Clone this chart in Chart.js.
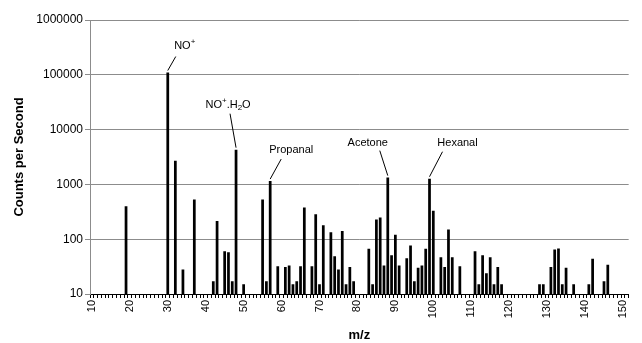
<!DOCTYPE html>
<html>
<head>
<meta charset="utf-8">
<script src="https://cdn.jsdelivr.net/npm/chart.js@4"></script>
<style>
  body { margin: 0; background: #fff; }
  #wrap { width: 642px; height: 343px; position: relative; }
</style>
</head>
<body>
<div id="wrap"><canvas id="canvasMS"></canvas></div>
<script>
// m/z range shown on the axis
var mzFirst = 10, mzLast = 151;
var categories = [];
for (var m = mzFirst; m <= mzLast; m++) categories.push(m);

// peaks
var peakMz = [19, 30, 32, 34, 37, 42, 43, 45, 46, 47, 48, 50, 55, 56, 57, 59, 61, 62, 63, 64,
  65, 66, 68, 69, 70, 71, 73, 74, 75, 76, 77, 78, 79, 83, 84, 85, 86, 87, 88, 89,
  90, 91, 93, 94, 95, 96, 97, 98, 99, 100, 102, 103, 104, 105, 107, 111, 112, 113, 114, 115,
  116, 117, 118, 128, 129, 131, 132, 133, 134, 135, 137, 141, 142, 145, 146];
var peakCounts = [400, 110000, 2700, 28, 530, 17, 215, 60, 58, 17, 4300, 15, 530, 17, 1150, 32, 31, 33, 15, 17,
  32, 380, 32, 285, 15, 180, 134, 49, 28, 141, 15, 31, 17, 67, 15, 230, 250, 33, 1330, 51,
  121, 33, 45, 77, 17, 30, 33, 67, 1270, 330, 47, 31, 150, 47, 32, 60, 15, 51, 24, 47,
  15, 31, 15, 15, 15, 31, 65, 68, 15, 30, 15, 15, 44, 17, 34];

var yTicks = [10, 100, 1000, 10000, 100000, 1000000];
var xTickLabels = [10, 20, 30, 40, 50, 60, 70, 80, 90, 100, 110, 120, 130, 140, 150];

// labelled peaks: m/z, text pieces, leader end and text centre offsets (px from bar top)
var notes = [
  { mz: 30, parts: [['NO'], ['+', 'sup']], line: [8, -16], text: [17, -27] },
  { mz: 48, parts: [['NO'], ['+', 'sup'], ['.H'], ['2', 'sub'], ['O']], line: [-6, -36], text: [-8, -45] },
  { mz: 57, parts: [['Propanal']], line: [11, -22], text: [21, -31] },
  { mz: 88, parts: [['Acetone']], line: [-8, -27], text: [-20, -35] },
  { mz: 99, parts: [['Hexanal']], line: [13, -27], text: [28, -36] }
];

var counts = categories.map(function (c) {
  var k = peakMz.indexOf(c);
  return k < 0 ? null : peakCounts[k];
});

var noteFont = '11px "Liberation Sans", Arial, sans-serif';
var smallFont = '8px "Liberation Sans", Arial, sans-serif';

var notePlugin = {
  id: 'notes',
  afterDatasetsDraw: function (chart) {
    var ctx = chart.ctx, xs = chart.scales.x, ys = chart.scales.y;
    ctx.save();
    ctx.strokeStyle = '#000';
    ctx.fillStyle = '#000';
    ctx.lineWidth = 1;
    notes.forEach(function (n) {
      var i = categories.indexOf(n.mz);
      var x = xs.getPixelForValue(i);
      var y = ys.getPixelForValue(counts[i]);
      ctx.beginPath();
      ctx.moveTo(x, y - 2);
      ctx.lineTo(x + n.line[0], y + n.line[1]);
      ctx.stroke();
      // measure
      var w = 0;
      n.parts.forEach(function (p) {
        ctx.font = p[1] ? smallFont : noteFont;
        w += ctx.measureText(p[0]).width;
      });
      var tx = x + n.text[0] - w / 2, ty = y + n.text[1];
      ctx.textBaseline = 'middle';
      ctx.textAlign = 'left';
      n.parts.forEach(function (p) {
        ctx.font = p[1] ? smallFont : noteFont;
        var off = p[1] === 'sup' ? -4 : (p[1] === 'sub' ? 3 : 0);
        ctx.fillText(p[0], tx, ty + off);
        tx += ctx.measureText(p[0]).width;
      });
    });
    ctx.restore();
  }
};

var ctx = document.getElementById('canvasMS');
var chart = new Chart(ctx, {
  type: 'bar',
  data: {
    labels: categories,
    datasets: [{
      data: counts,
      backgroundColor: '#000',
      borderWidth: 0,
      barPercentage: 0.72,
      categoryPercentage: 1
    }]
  },
  options: {
    responsive: true,
    maintainAspectRatio: false,
    animation: false,
    events: [],
    layout: { padding: { top: 20, right: 11, left: 0, bottom: 0 } },
    plugins: { legend: { display: false }, tooltip: { enabled: false } },
    scales: {
      x: {
        type: 'category',
        grid: { drawOnChartArea: false, drawTicks: true, tickLength: 4, color: '#000', offset: true },
        border: { color: '#000', width: 1 },
        ticks: {
          autoSkip: false,
          minRotation: 90,
          maxRotation: 90,
          padding: 2,
          color: '#000',
          font: { family: '"Liberation Sans", Arial, sans-serif', size: 11 },
          callback: function (v, i) {
            var c = categories[i];
            return xTickLabels.indexOf(c) >= 0 ? String(c) : '';
          }
        },
        title: {
          display: true,
          text: 'm/z',
          color: '#000',
          padding: { top: 0, bottom: 0 },
          font: { family: '"Liberation Sans", Arial, sans-serif', size: 13, weight: 'bold' }
        },
        afterFit: function (s) { s.height = 49; }
      },
      y: {
        type: 'logarithmic',
        min: 10,
        max: 1000000,
        afterBuildTicks: function (s) {
          s.ticks = yTicks.map(function (v) { return { value: v }; });
        },
        grid: { color: '#8c8c8c', lineWidth: 1, drawTicks: true, tickLength: 5 },
        border: { color: '#8c8c8c', width: 1 },
        ticks: {
          color: '#000',
          padding: 2,
          font: { family: '"Liberation Sans", Arial, sans-serif', size: 12 },
          callback: function (v) { return String(v); }
        },
        title: {
          display: true,
          text: 'Counts per Second',
          color: '#000',
          padding: { top: 12, bottom: 0 },
          font: { family: '"Liberation Sans", Arial, sans-serif', size: 13, weight: 'bold' }
        },
        afterFit: function (s) { s.width = 90; }
      }
    }
  },
  plugins: [notePlugin]
});
</script>
</body>
</html>
